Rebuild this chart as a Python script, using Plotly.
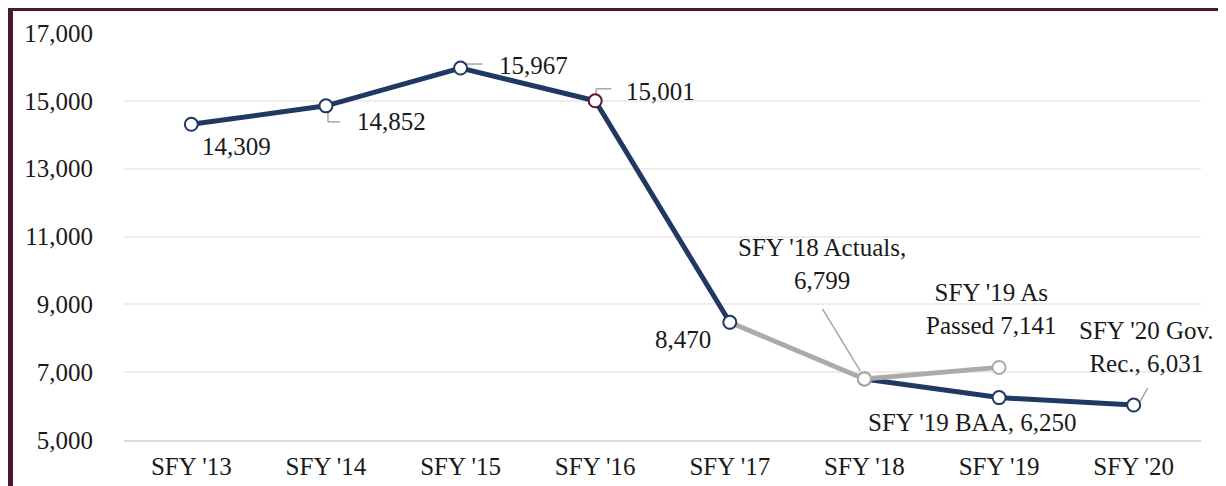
import plotly.graph_objects as go

categories = ["SFY '13", "SFY '14", "SFY '15", "SFY '16", "SFY '17", "SFY '18", "SFY '19", "SFY '20"]
hist_values = [14309, 14852, 15967, 15001, 8470]          # SFY '13 - '17
proj_cats = ["SFY '18", "SFY '19", "SFY '20"]
proj_values = [6799, 6250, 6031]                          # Actuals, BAA, Gov. Rec.
passed_cats = ["SFY '17", "SFY '18", "SFY '19"]
passed_values = [8470, 6799, 7141]                        # As Passed path
y_ticks = [5000, 7000, 9000, 11000, 13000, 15000, 17000]

NAVY = "#203864"
GRAY = "#AEAAAA"
MAROON = "#5A1A3C"
BORDER = "#4E1434"
FONT = "Liberation Serif"
TXT = "#1a1a1a"
FS = 25

fig = go.Figure()

fig.add_trace(go.Scatter(
    x=proj_cats, y=proj_values, mode="lines+markers",
    line=dict(color=NAVY, width=5),
    marker=dict(size=13, color="white", line=dict(color=NAVY, width=2)),
    hoverinfo="skip", showlegend=False))

fig.add_trace(go.Scatter(
    x=passed_cats, y=passed_values, mode="lines+markers",
    line=dict(color=GRAY, width=5),
    marker=dict(size=13, color="white", line=dict(color=GRAY, width=2)),
    hoverinfo="skip", showlegend=False))

fig.add_trace(go.Scatter(
    x=categories[:5], y=hist_values, mode="lines+markers",
    line=dict(color=NAVY, width=5),
    marker=dict(size=13, color="white",
                line=dict(color=[NAVY, NAVY, NAVY, MAROON, NAVY], width=2)),
    hoverinfo="skip", showlegend=False))

def label(x, y, text, dx, dy):
    fig.add_annotation(x=x, y=y, text=text, showarrow=False, xanchor="center",
                       yanchor="middle", xshift=dx, yshift=dy,
                       font=dict(family=FONT, size=FS, color=TXT))

label(categories[0], hist_values[0], "14,309", 45, -22)
label(categories[1], hist_values[1], "14,852", 66, -16)
label(categories[2], hist_values[2], "15,967", 73, 3)
label(categories[3], hist_values[3], "15,001", 65, 9)
label(categories[4], hist_values[4], "8,470", -47, -17)
label(proj_cats[0], proj_values[0], "SFY '18 Actuals,<br>6,799", -42, 115)
label(passed_cats[2], passed_values[2], "SFY '19 As<br>Passed 7,141", -8, 58)
label(proj_cats[1], proj_values[1], "SFY '19 BAA, 6,250", -27, -25)
label(proj_cats[2], proj_values[2], "SFY '20 Gov.<br>Rec., 6,031", 13, 58)

def leader(x, y, pts):
    for (x0, y0), (x1, y1) in zip(pts[:-1], pts[1:]):
        fig.add_shape(type="line", xref="x", yref="y",
                      xsizemode="pixel", ysizemode="pixel",
                      xanchor=x, yanchor=y, x0=x0, y0=y0, x1=x1, y1=y1,
                      line=dict(color="#A6A6A6", width=1.5), layer="below")

leader(categories[1], hist_values[1], [(2, -6), (2, -16), (14, -16)])
leader(categories[2], hist_values[2], [(4, 3), (6, 4), (22, 4)])
leader(categories[3], hist_values[3], [(1, 5), (1, 12), (16, 12)])
leader(proj_cats[0], proj_values[0], [(-42, 70), (-3, 6)])
leader(proj_cats[2], proj_values[2], [(6, 3), (14, 17)])

# maroon frame (top and left edges)
fig.add_shape(type="line", xref="paper", yref="paper", x0=-0.1077, x1=1.0176,
              y0=1.0603, y1=1.0603, line=dict(color=BORDER, width=5))
fig.add_shape(type="line", xref="paper", yref="paper", x0=-0.1054, x1=-0.1054,
              y0=1.0665, y1=-0.2, line=dict(color=BORDER, width=5))

# page body has an 8px margin, so margins are reduced by 8 on left/top
fig.update_layout(
    width=1226, height=486,
    margin=dict(l=116, r=33, t=25, b=54),
    paper_bgcolor="white", plot_bgcolor="white",
    font=dict(family=FONT, size=FS, color=TXT),
    xaxis=dict(type="category", categoryorder="array", categoryarray=categories,
               range=[-0.5, 7.5], showgrid=False, zeroline=False,
               showline=True, linecolor="#D9D9D9", linewidth=2,
               ticks="", ticklabelstandoff=3,
               tickfont=dict(family=FONT, size=FS, color=TXT)),
    yaxis=dict(range=[5000, 17000], tickvals=y_ticks,
               ticktext=[f"{v:,}" for v in y_ticks],
               showgrid=True, gridcolor="#EDEDED", gridwidth=1.5,
               zeroline=False, showline=False, ticks="",
               ticklabelstandoff=30,
               tickfont=dict(family=FONT, size=FS, color=TXT)),
)

fig.write_html("out.html")
